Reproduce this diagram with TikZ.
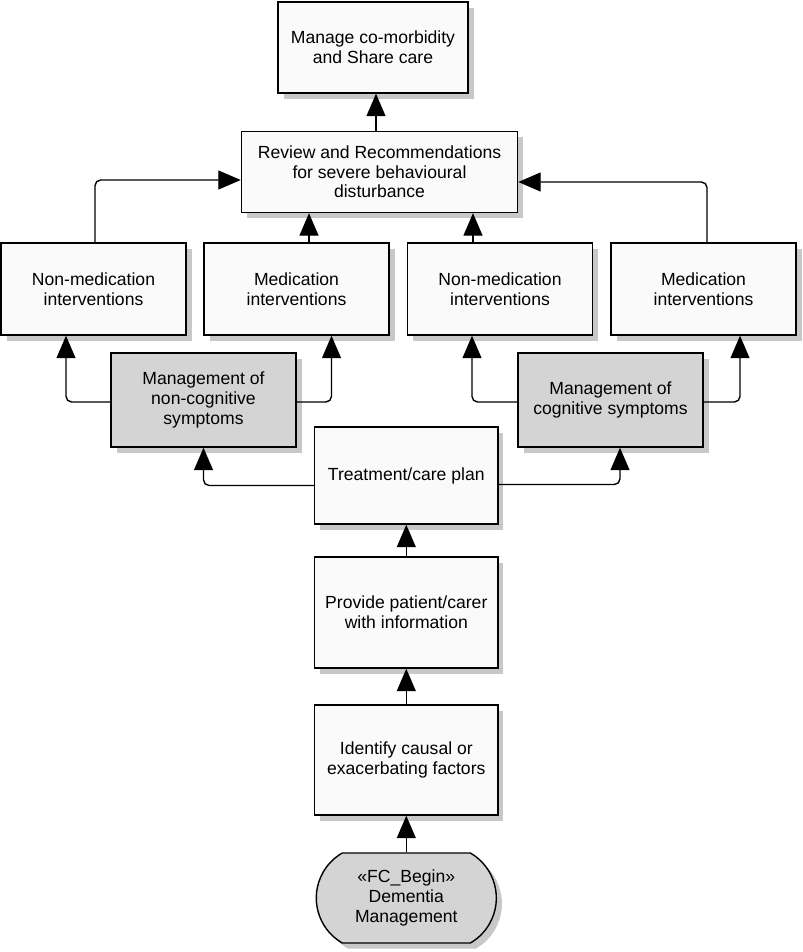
\documentclass[tikz,border=0pt]{standalone}
\usepackage{fontspec}
\setmainfont{Liberation Sans}
\usetikzlibrary{shapes.misc,shadows,arrows.meta}
\newlength\pxu
\setlength\pxu{0.7113pt}
\definecolor{boxfill}{RGB}{250,250,250}
\definecolor{mgmtfill}{RGB}{212,212,212}
\definecolor{shadowgray}{RGB}{200,200,200}
\tikzset{
  box/.style={draw, line width=1pt, fill=boxfill, align=center, inner sep=2pt,
    font=\fontsize{12.5}{14}\selectfont,
    drop shadow={shadow xshift=4pt, shadow yshift=-4pt, fill=shadowgray, opacity=1}},
  mgmtbox/.style={box, fill=mgmtfill},
  flow/.style={line width=1pt, rounded corners=4pt, -{Triangle[length=16pt,width=13.5pt]}},
}
\begin{document}
\begin{tikzpicture}[x=0.025cm, y=-0.025cm]
  \useasboundingbox (0,0) rectangle (802,952);
  % boxes
  \node[box, minimum width=190\pxu, minimum height=91\pxu] (manage) at (373,47.5) {Manage co-morbidity\\and Share care};
  \node[box, minimum width=276\pxu, minimum height=81\pxu] (review) at (379.5,172) {Review and Recommendations\\for severe behavioural\\disturbance};
  \node[box, minimum width=185\pxu, minimum height=92\pxu] (nonmedL) at (93.5,289) {Non-medication\\interventions};
  \node[box, minimum width=185\pxu, minimum height=92\pxu] (medL) at (296.5,289) {Medication\\interventions};
  \node[box, minimum width=185\pxu, minimum height=92\pxu] (nonmedR) at (500,289) {Non-medication\\interventions};
  \node[box, minimum width=185\pxu, minimum height=92\pxu] (medR) at (703.5,289) {Medication\\interventions};
  \node[mgmtbox, minimum width=185\pxu, minimum height=94\pxu] (mgmtNC) at (203.5,400) {Management of\\non-cognitive\\symptoms};
  \node[mgmtbox, minimum width=185\pxu, minimum height=94\pxu] (mgmtC) at (610.5,400) {Management of\\cognitive symptoms};
  \node[box, minimum width=183\pxu, minimum height=97\pxu] (treat) at (406.3,475.5) {Treatment/care plan};
  \node[box, minimum width=183\pxu, minimum height=111\pxu] (provide) at (406.3,612.5) {Provide patient/carer\\with information};
  \node[box, minimum width=183\pxu, minimum height=110\pxu] (identify) at (406.3,760) {Identify causal or\\exacerbating factors};
  \node[mgmtbox, rounded rectangle, rounded rectangle arc length=120, minimum width=180\pxu, minimum height=90\pxu, inner sep=0pt] (begin) at (406.3,898) {«FC\_Begin»\\Dementia\\Management};
  % connectors
  \draw[flow] (begin.north) -- (identify.south);
  \draw[flow] (identify.north) -- (provide.south);
  \draw[flow] (provide.north) -- (treat.south);
  \draw[flow] ([yshift=-10\pxu]treat.west) -| (mgmtNC.south);
  \draw[flow] ([yshift=-9\pxu]treat.east) -| ([xshift=9.5\pxu]mgmtC.south);
  \draw[flow] ([yshift=-2\pxu]mgmtNC.west) -| ([xshift=-27.5\pxu]nonmedL.south);
  \draw[flow] ([yshift=-2\pxu]mgmtNC.east) -| ([xshift=35\pxu]medL.south);
  \draw[flow] ([yshift=-2\pxu]mgmtC.west) -| ([xshift=-28\pxu]nonmedR.south);
  \draw[flow] ([yshift=-2\pxu]mgmtC.east) -| ([xshift=36.5\pxu]medR.south);
  \draw[flow] ([xshift=1.5\pxu]nonmedL.north) |- ([yshift=-8\pxu]review.west);
  \draw[flow] ([xshift=3.5\pxu]medR.north) |- ([yshift=-10\pxu]review.east);
  \coordinate (upL) at ([xshift=12.5\pxu]medL.north);
  \coordinate (upR) at ([xshift=-27\pxu]nonmedR.north);
  \coordinate (upT) at ([xshift=-3.5\pxu]review.north);
  \draw[flow] (upL) -- (upL |- review.south);
  \draw[flow] (upR) -- (upR |- review.south);
  \draw[flow] (upT) -- (upT |- manage.south);
\end{tikzpicture}
\end{document}
